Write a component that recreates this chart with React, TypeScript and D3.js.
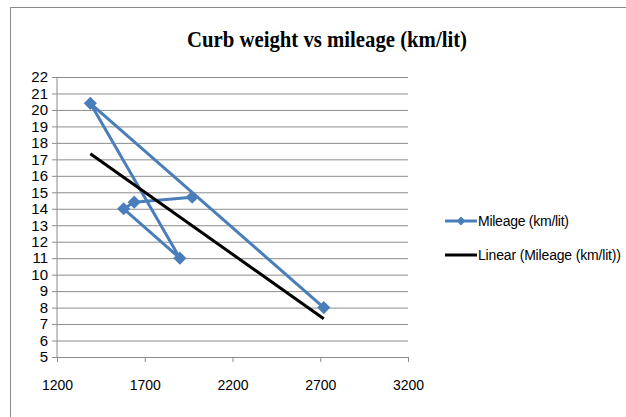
import React, { useRef, useEffect } from "react";
import * as d3 from "d3";

// curb weight (kg) and mileage (km/lit), in the order the series is plotted
const curbWeight = [2720, 1390, 1900, 1580, 1640, 1970];
const mileage = [8, 20.4, 11, 14, 14.4, 14.7];
const xTicks = [1200, 1700, 2200, 2700, 3200];
const yTicks = d3.range(5, 23);
const seriesName = "Mileage (km/lit)";
const trendName = "Linear (Mileage (km/lit))";
const title = "Curb weight vs mileage (km/lit)";

const W = 626;
const H = 417;
const BLUE = "#4A7EBB";
const GRID = "#8c8c8c";
const LABEL_FONT = "'Liberation Sans Narrow', 'Liberation Sans', sans-serif";

function App() {
  const svgRef = useRef<SVGSVGElement>(null);

  useEffect(() => {
    const svg = d3.select(svgRef.current);
    svg.selectAll("*").remove();

    const margin = { left: 57, right: 218, top: 77, bottom: 60 };

    const x = d3.scaleLinear().domain([1200, 3200]).range([margin.left, W - margin.right]);
    const y = d3.scaleLinear().domain([5, 22]).range([H - margin.bottom, margin.top]);

    // chart frame
    svg
      .append("rect")
      .attr("x", 10.5)
      .attr("y", 7.5)
      .attr("width", W + 10)
      .attr("height", H + 10)
      .attr("fill", "white")
      .attr("stroke", "#8a8a8a");

    svg
      .append("text")
      .attr("x", 327)
      .attr("y", 47)
      .attr("text-anchor", "middle")
      .attr("font-family", "'Liberation Serif', serif")
      .attr("font-weight", "bold")
      .attr("font-size", 23)
      .attr("textLength", 280)
      .attr("lengthAdjust", "spacingAndGlyphs")
      .attr("fill", "#000")
      .text(title);

    // horizontal grid + y labels
    svg
      .append("g")
      .attr("transform", `translate(${margin.left},0)`)
      .call(d3.axisLeft(y).tickValues(yTicks).tickSize(5).tickPadding(4).tickFormat(d3.format("d")))
      .call((g) => g.select(".domain").remove())
      .call((g) => g.selectAll("line").attr("stroke", GRID))
      .call((g) =>
        g
          .selectAll(".tick")
          .append("line")
          .attr("x2", W - margin.right - margin.left)
          .attr("stroke", GRID)
      )
      .call((g) =>
        g.selectAll("text").attr("font-family", LABEL_FONT).attr("font-size", 15).attr("fill", "#000")
      );

    // y axis line
    svg
      .append("line")
      .attr("x1", margin.left)
      .attr("x2", margin.left)
      .attr("y1", y(22))
      .attr("y2", y(5))
      .attr("stroke", GRID);

    // x axis
    svg
      .append("g")
      .attr("transform", `translate(0,${y(5)})`)
      .call(d3.axisBottom(x).tickValues(xTicks).tickSize(5).tickPadding(18).tickFormat(d3.format("d")))
      .call((g) => g.select(".domain").attr("stroke", GRID))
      .call((g) => g.selectAll("line").attr("stroke", GRID))
      .call((g) =>
        g.selectAll("text").attr("font-family", LABEL_FONT).attr("font-size", 14).attr("fill", "#000")
      );

    const pts = curbWeight.map((c, i) => ({ x: c, y: mileage[i] }));

    const line = d3
      .line<{ x: number; y: number }>()
      .x((d) => x(d.x))
      .y((d) => y(d.y));

    svg
      .append("path")
      .attr("d", line(pts))
      .attr("fill", "none")
      .attr("stroke", BLUE)
      .attr("stroke-width", 3)
      .attr("stroke-linejoin", "round");

    const diamond = d3.symbol().type(d3.symbolDiamond2).size(110);
    svg
      .append("g")
      .selectAll("path")
      .data(pts)
      .join("path")
      .attr("transform", (d) => `translate(${x(d.x)},${y(d.y)})`)
      .attr("d", diamond)
      .attr("fill", BLUE);

    // least squares trendline
    const mx = d3.mean(curbWeight) as number;
    const my = d3.mean(mileage) as number;
    const slope =
      d3.sum(curbWeight, (c, i) => (c - mx) * (mileage[i] - my)) /
      d3.sum(curbWeight, (c) => (c - mx) ** 2);
    const [x0, x1] = d3.extent(curbWeight) as [number, number];
    const trend = [x0, x1].map((c) => ({ x: c, y: my + slope * (c - mx) }));

    svg
      .append("path")
      .attr("d", line(trend))
      .attr("fill", "none")
      .attr("stroke", "#000")
      .attr("stroke-width", 3);

    // legend
    const legend = svg.append("g").attr("font-family", LABEL_FONT).attr("font-size", 14);
    const l1 = legend.append("g").attr("transform", "translate(445,221)");
    l1.append("line").attr("x2", 32).attr("stroke", BLUE).attr("stroke-width", 3);
    l1.append("path").attr("transform", "translate(16,0)").attr("d", d3.symbol().type(d3.symbolDiamond2).size(50)).attr("fill", BLUE);
    l1.append("text").attr("x", 33).attr("dy", "0.35em").attr("textLength", 91).text(seriesName);

    const l2 = legend.append("g").attr("transform", "translate(445,255)");
    l2.append("line").attr("x2", 32).attr("stroke", "#000").attr("stroke-width", 3);
    l2.append("text").attr("x", 33).attr("dy", "0.35em").attr("textLength", 143).text(trendName);
  }, []);

  return (
    <svg
      ref={svgRef}
      width={W}
      height={H}
      style={{ position: "absolute", left: 0, top: 0, background: "white" }}
    ></svg>
  );
}

export default App;
